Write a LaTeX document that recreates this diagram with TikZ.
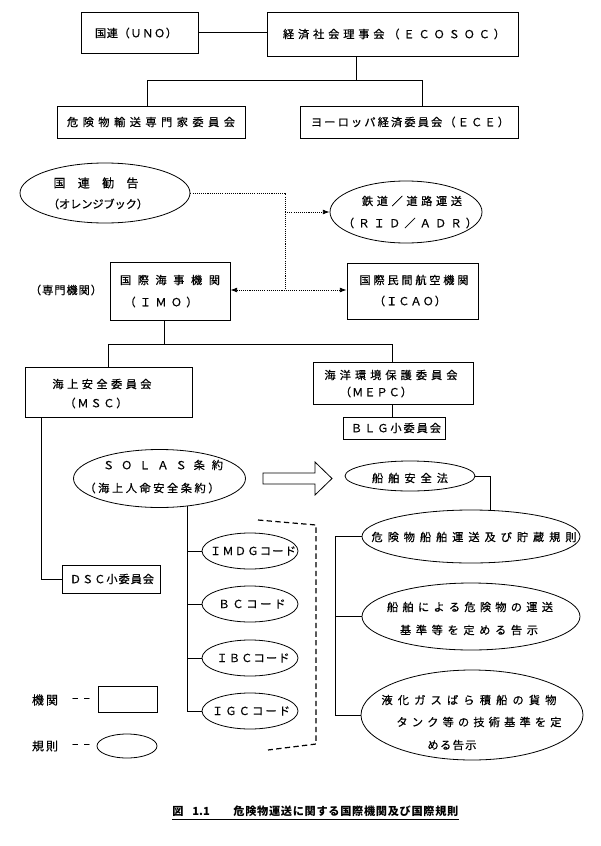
\documentclass[tikz,border=0pt]{standalone}
\usepackage{fontspec}
\usetikzlibrary{shapes.geometric,arrows.meta,fit}
\newfontfamily\jp[FakeBold=0.5]{Noto Sans CJK JP}
\newfontfamily\jpcap{Noto Sans CJK JP}
\newdimen\pxu \pxu=0.75pt
\def\sprloop#1{#1\futurelet\sprnexttok\sprnext}
\def\sprnext{\ifx\sprnexttok\relax\expandafter\sprgobble\else\hskip 0pt plus 1fil minus 1fil\expandafter\sprloop\fi}
\def\sprgobble#1{}
\newcommand\sprtxt[2]{\hbox to #1\pxu{\sprloop#2\relax}}
\begin{document}
\begin{tikzpicture}[x=0.75pt,y=-0.75pt,line width=0.6pt,
  box/.style={draw,inner sep=0pt},
  ell/.style 2 args={draw,ellipse,inner sep=0pt,minimum width=#1*1.5pt,minimum height=#2*1.5pt},
  t/.style={inner sep=0pt,font=\jp\fontsize{8.4pt}{9pt}\selectfont},
  tb/.style={inner sep=0pt,font=\jp\fontsize{9pt}{10pt}\selectfont},
  dot/.style={dash pattern=on 0.8pt off 0.8pt},
  tip/.style={-{Latex[length=5pt,width=3.6pt]}},
  bracket/.style={line width=0.9pt,dash pattern=on 4pt off 2.5pt}]
\useasboundingbox[fill=white] (0,0) rectangle (600,846);

% --- top: UN ---
\node[box,fit={(81,12) (198,53)}] (uno) {};
\node[t] (unot) at (136,33) {\sprtxt{82}{国連（ＵＮＯ）}};
\node[box,fit={(267,12) (518,56)}] (eco) {};
\node[t] (ecot) at (394,34) {\sprtxt{222}{経済社会理事会（ＥＣＯＳＯＣ）}};
\node[box,fit={(57,106) (245,138)}] (kiken) {};
\node[t] (kikent) at (151,122) {\sprtxt{168}{危険物輸送専門家委員会}};
\node[box,fit={(300,106) (518,138)}] (ece) {};
\node[t] (ecet) at (410,122) {\sprtxt{198}{ヨーロッパ経済委員会（ＥＣＥ）}};
\draw (uno.east) -- (uno.east -| eco.west);
\coordinate (e1) at (356,80);
\coordinate (e2) at (147,80);
\coordinate (e3) at (422,80);
\draw (e1 |- eco.south) -- (e1);
\draw (e2 |- kiken.north) -- (e2) -- (e3) -- (e3 |- ece.north);

% --- UN recommendations ---
\node[ell={85}{30}] (kan) at (105,193) {};
\node[tb] (kant1) at (96,183) {\sprtxt{85}{国連勧告}};
\node[t] (kant2) at (98,204) {\sprtxt{100}{（オレンジブック）}};
\node[ell={76}{31}] (tetsu) at (406,212) {};
\node[t] (tetsut1) at (412,201) {\sprtxt{100}{鉄道／道路運送}};
\node[t] (tetsut2) at (410,223) {\sprtxt{134}{（ＲＩＤ／ＡＤＲ）}};

% --- IMO / ICAO ---
\node[box,fit={(110,262) (230,320)}] (imo) {};
\node[t] (imot1) at (170,280) {\sprtxt{100}{国際海事機関}};
\node[t] (imot2) at (161,302) {\sprtxt{73}{（ＩＭＯ）}};
\node[t] (senmon) at (66,290) {\sprtxt{72}{（専門機関）}};
\node[box,fit={(347,263) (478,319)}] (icao) {};
\node[t] (icaot1) at (414,280) {\sprtxt{109}{国際民間航空機関}};
\node[t] (icaot2) at (410,301) {\sprtxt{72}{（ＩＣＡＯ）}};
\coordinate (jn) at (285,290);
\coordinate (jt) at (285,212);
\draw[dot] (kan.east) -| (jn);
\draw[dot,tip] (jt) -- (tetsu.west);
\draw[dot,{Latex[length=5pt,width=3.6pt]}-{Latex[length=5pt,width=3.6pt]}] (imo.east |- jn) -- (icao.west |- jn);

% --- MSC / MEPC ---
\node[box,fit={(25,367) (192,417)}] (msc) {};
\node[t] (msct1) at (102,384) {\sprtxt{99}{海上安全委員会}};
\node[t] (msct2) at (96,403) {\sprtxt{63}{（ＭＳＣ）}};
\node[box,fit={(313,362) (473,404)}] (mepc) {};
\node[t] (mepct1) at (391,375) {\sprtxt{133}{海洋環境保護委員会}};
\node[t] (mepct2) at (376,392) {\sprtxt{72}{（ＭＥＰＣ）}};
\node[box,fit={(343,417) (445,439)}] (blg) {};
\node[t] (blgt) at (396,428) {\sprtxt{90}{ＢＬＧ小委員会}};
\coordinate (i1) at (164,344);
\coordinate (i2) at (108,344);
\coordinate (i3) at (392,344);
\draw (i1 |- imo.south) -- (i1);
\draw (i2 |- msc.north) -- (i2) -- (i3) -- (i3 |- mepc.north);
\draw (i3 |- mepc.south) -- (i3 |- blg.north);

\node[box,fit={(62,565) (160,593)}] (dsc) {};
\node[t] (dsct) at (112,579) {\sprtxt{84}{ＤＳＣ小委員会}};
\coordinate (md) at (41.5,579);
\draw (md |- msc.south) -- (md) -- (dsc.west);

% --- SOLAS and codes ---
\node[ell={86}{29}] (solas) at (159.5,478.5) {};
\node[t] (solast1) at (163,465) {\sprtxt{120}{ＳＯＬＡＳ条約}};
\node[t] (solast2) at (152,488) {\sprtxt{135}{（海上人命安全条約）}};
\node[ell={48}{18}] (imdg) at (250,551) {};
\node[t] (imdgt) at (253,551) {\sprtxt{86}{ＩＭＤＧコード}};
\node[ell={48}{18}] (bc) at (250,604) {};
\node[t] (bct) at (252,604) {\sprtxt{67}{ＢＣコード}};
\node[ell={48}{18}] (ibc) at (250,658) {};
\node[t] (ibct) at (253,658) {\sprtxt{73}{ＩＢＣコード}};
\node[ell={48}{18}] (igc) at (250,711) {};
\node[t] (igct) at (251,711) {\sprtxt{78}{ＩＧＣコード}};
\draw (solas.-45) |- (igc.west);
\draw (imdg.west) -- (imdg.west -| solas.-45);
\draw (bc.west) -- (bc.west -| solas.-45);
\draw (ibc.west) -- (ibc.west -| solas.-45);
\draw[bracket] (258,520) -- (316,525) -- (316,744) -- (268,750);

% --- block arrow ---
\draw (263,473) -- (315,473) -- (315,462) -- (332,478.5) -- (315,495) -- (315,484) -- (263,484) -- cycle;

% --- Japanese law ---
\node[ell={65}{15}] (senpaku) at (410,476) {};
\node[t] (senpakut) at (410,478) {\sprtxt{76}{船舶安全法}};
\node[ell={109}{26.5}] (r1) at (471,536.5) {};
\node[t] (r1t) at (474,537) {\sprtxt{205}{危険物船舶運送及び貯蔵規則}};
\node[ell={109}{33.5}] (r2) at (471,616.5) {};
\node[t] (r2t1) at (470,607) {\sprtxt{166}{船舶による危険物の運送}};
\node[t] (r2t2) at (469,630) {\sprtxt{138}{基準等を定める告示}};
\node[ell={111}{45}] (r3) at (472,715) {};
\node[t] (r3t1) at (469,700) {\sprtxt{175}{液化ガスばら積船の貨物}};
\node[t] (r3t2) at (479,722) {\sprtxt{165}{タンク等の技術基準を定}};
\node[t] (r3t3) at (452,745) {\sprtxt{49}{める告示}};
\coordinate (sr) at (490,510);
\draw (senpaku.east) -| (sr);
\coordinate (rt) at (335,536);
\draw (r1.west) -- (r1.west -| rt) -- (r3.west -| rt) -- (r3.west);
\draw (r2.west -| rt) -- (r2.west);

% --- legend ---
\node[tb] (kikan) at (45,700) {\sprtxt{26}{機関}};
\node[tb] (d1) at (81,700) {\sprtxt{18}{––}};
\node[box,fit={(98,686) (157,712)}] (lgbox) {};
\node[tb] (kisoku) at (45,746) {\sprtxt{26}{規則}};
\node[tb] (d2) at (81,746) {\sprtxt{18}{––}};
\node[ell={30}{12}] (lgell) at (127,746) {};

% --- caption ---
\node[inner sep=0pt,anchor=base west,font=\jpcap\bfseries\fontsize{8.4pt}{9pt}\selectfont] (cap) at (172,815)
  {\hbox to 20\pxu{図\hfil}\hbox to 41\pxu{1.1\hfil}\sprtxt{225}{危険物運送に関する国際機関及び国際規則}};
\draw[line width=1.1pt] ([yshift=-3.2pt]cap.base west) -- ([yshift=-3.2pt]cap.base east);
\end{tikzpicture}
\end{document}
